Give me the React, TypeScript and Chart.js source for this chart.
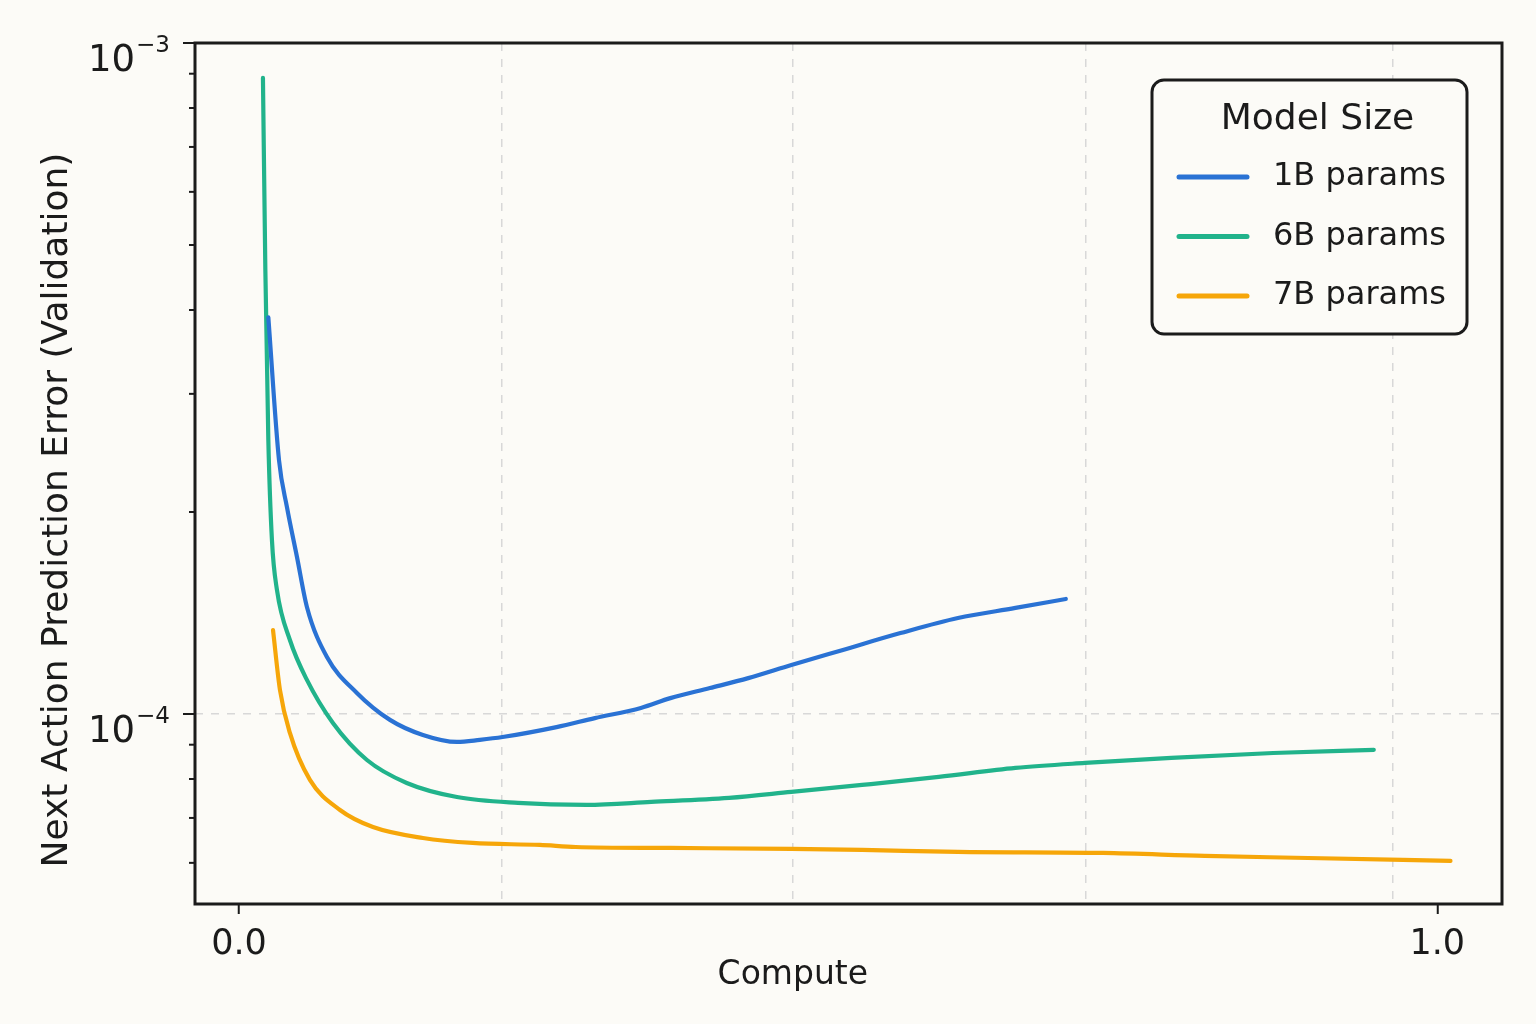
import { useEffect, useRef } from "react";
import { Chart, registerables } from "chart.js";

Chart.register(...registerables);

// Series (x = compute, y = validation error)
const seriesLabels = ["1B params", "6B params", "7B params"];
const seriesColors = ["#2a72d4", "#21b38b", "#f6a609"];

const compute1B = [0.0245, 0.0334, 0.04, 0.0484, 0.0567, 0.0734, 0.0984, 0.126, 0.1535, 0.1819, 0.201, 0.22, 0.265, 0.297, 0.3354, 0.36, 0.393, 0.425, 0.461, 0.504, 0.552, 0.6, 0.648, 0.69];
const error1B = [3.9e-4, 2.39e-4, 2.035e-4, 1.714e-4, 1.444e-4, 1.216e-4, 1.075e-4, 0.98e-4, 0.9305e-4, 0.9085e-4, 0.915e-4, 0.924e-4, 0.956e-4, 0.986e-4, 1.021e-4, 1.056e-4, 1.093e-4, 1.131e-4, 1.183e-4, 1.246e-4, 1.32e-4, 1.39e-4, 1.439e-4, 1.484e-4];

const compute6B = [0.02, 0.022, 0.0245, 0.0275, 0.0317, 0.0425, 0.0567, 0.0784, 0.1068, 0.14, 0.1819, 0.2328, 0.29, 0.344, 0.409, 0.461, 0.52, 0.584, 0.648, 0.706, 0.778, 0.863, 0.947];
const error6B = [8.87e-4, 4.6e-4, 2.56e-4, 1.817e-4, 1.53e-4, 1.289e-4, 1.124e-4, 0.9696e-4, 0.854e-4, 0.7893e-4, 0.752e-4, 0.737e-4, 0.732e-4, 0.7395e-4, 0.7497e-4, 0.7653e-4, 0.7839e-4, 0.8057e-4, 0.831e-4, 0.8454e-4, 0.86e-4, 0.8747e-4, 0.884e-4];

const compute7B = [0.0284, 0.0342, 0.0425, 0.0592, 0.0843, 0.1118, 0.1535, 0.195, 0.2511, 0.281, 0.36, 0.461, 0.52, 0.6, 0.721, 0.806, 0.892, 1.011];
const error7B = [1.334e-4, 1.086e-4, 0.937e-4, 0.7975e-4, 0.7194e-4, 0.6785e-4, 0.6535e-4, 0.6424e-4, 0.638e-4, 0.6336e-4, 0.6315e-4, 0.6293e-4, 0.6272e-4, 0.6229e-4, 0.6207e-4, 0.6144e-4, 0.6101e-4, 0.6039e-4];

// Axes
const xMin = -0.0367;
const xMax = 1.054;
const xGridValues = [0, 0.2194, 0.4622, 0.7067, 0.9628, 1.0];
const xLabelled = [0, 1];
const yMin = 5.21e-5;
const yMax = 1e-3;
const yTickValues = [6e-5, 7e-5, 8e-5, 9e-5, 1e-4, 2e-4, 3e-4, 4e-4, 5e-4, 6e-4, 7e-4, 8e-4, 9e-4, 1e-3];
const yMajor = [1e-4, 1e-3];
const yMajorExponents = ["−4", "−3"];
const xTitle = "Compute";
const yTitle = "Next Action Prediction Error (Validation)";
const legendTitle = "Model Size";

const FONT = "'DejaVu Sans', sans-serif";
const INK = "#1b1b1b";
const BG = "#fcfbf7";
const GRID = "#d8d8d8";

const isOneOf = (v: number, list: number[]) =>
  list.some((t) => Math.abs(t - v) <= Math.abs(t) * 1e-6 + 1e-12);

const framePlugin = {
  id: "frameAndLegend",
  afterDraw(chart: any) {
    const { ctx, chartArea } = chart;
    const yScale = chart.scales.y;
    const xScale = chart.scales.x;
    ctx.save();

    // y tick marks: long for decades, short for minors, plus 10^n labels
    ctx.strokeStyle = INK;
    ctx.lineWidth = 2;
    yScale.ticks.forEach((t: any) => {
      const py = yScale.getPixelForValue(t.value);
      const idx = yMajor.findIndex((m) => isOneOf(t.value, [m]));
      const len = idx >= 0 ? 12 : 6;
      ctx.beginPath();
      ctx.moveTo(chartArea.left - len, py);
      ctx.lineTo(chartArea.left, py);
      ctx.stroke();
      if (idx >= 0) {
        const right = chartArea.left - 25;
        ctx.fillStyle = INK;
        ctx.textBaseline = "alphabetic";
        ctx.textAlign = "right";
        ctx.font = `23px ${FONT}`;
        const expW = ctx.measureText(yMajorExponents[idx]).width;
        ctx.fillText(yMajorExponents[idx], right, py + 9);
        ctx.font = `37px ${FONT}`;
        ctx.fillText("10", right - expW - 1, py + 28);
      }
    });

    // axis titles
    ctx.fillStyle = INK;
    ctx.textAlign = "center";
    ctx.textBaseline = "middle";
    ctx.font = `33px ${FONT}`;
    ctx.fillText(xTitle, xScale.getPixelForValue(0.4622), 975);
    ctx.save();
    ctx.translate(58, 510);
    ctx.rotate(-Math.PI / 2);
    ctx.font = `36px ${FONT}`;
    ctx.fillText(yTitle, 0, 0);
    ctx.restore();

    // plot frame
    ctx.strokeStyle = INK;
    ctx.lineWidth = 3;
    ctx.strokeRect(chartArea.left, chartArea.top, chartArea.right - chartArea.left, chartArea.bottom - chartArea.top);

    // legend box
    const w = 315;
    const h = 254;
    const bx = chartArea.right - 35 - w;
    const by = chartArea.top + 37;
    ctx.beginPath();
    ctx.roundRect(bx, by, w, h, 12);
    ctx.fillStyle = BG;
    ctx.fill();
    ctx.lineWidth = 3;
    ctx.strokeStyle = INK;
    ctx.stroke();

    ctx.fillStyle = INK;
    ctx.textBaseline = "middle";
    ctx.textAlign = "center";
    ctx.font = `36px ${FONT}`;
    ctx.fillText(legendTitle, bx + w / 2 + 8, by + 40);

    ctx.textAlign = "left";
    ctx.font = `32px ${FONT}`;
    chart.data.datasets.forEach((ds: any, i: number) => {
      const ly = by + 97 + i * 59.5;
      ctx.beginPath();
      ctx.strokeStyle = ds.borderColor;
      ctx.lineWidth = 5;
      ctx.lineCap = "round";
      ctx.moveTo(bx + 27, ly);
      ctx.lineTo(bx + 95, ly);
      ctx.stroke();
      ctx.fillStyle = INK;
      ctx.fillText(ds.label, bx + 121, ly);
    });
    ctx.restore();
  },
};

export default function App() {
  const canvasRef = useRef<HTMLCanvasElement | null>(null);
  const chartRef = useRef<Chart | null>(null);

  useEffect(() => {
    if (!canvasRef.current) return;
    if (chartRef.current) chartRef.current.destroy();

    const xs = [compute1B, compute6B, compute7B];
    const ys = [error1B, error6B, error7B];
    const datasets = seriesLabels.map((label, i) => ({
      label,
      data: xs[i].map((x, j) => ({ x, y: ys[i][j] })),
      borderColor: seriesColors[i],
      backgroundColor: seriesColors[i],
      borderWidth: 4.2,
      pointRadius: 0,
      fill: false,
      cubicInterpolationMode: "monotone" as const,
      borderCapStyle: "round" as const,
      borderJoinStyle: "round" as const,
    }));

    chartRef.current = new Chart(canvasRef.current, {
      type: "line",
      data: { datasets },
      plugins: [framePlugin],
      options: {
        animation: false,
        responsive: false,
        maintainAspectRatio: false,
        layout: { padding: { top: 43, right: 34, left: 0, bottom: 0 } },
        plugins: {
          legend: { display: false },
          tooltip: { enabled: false },
        },
        scales: {
          x: {
            type: "linear",
            min: xMin,
            max: xMax,
            afterBuildTicks: (scale: any) => {
              scale.ticks = xGridValues.map((value) => ({ value }));
            },
            afterFit: (scale: any) => {
              scale.height = 120;
            },
            border: { display: false, dash: [8, 8] },
            grid: {
              color: (c: any) => (isOneOf(c.tick.value, xLabelled) ? "transparent" : GRID),
              lineWidth: 1.5,
              tickColor: (c: any) => (isOneOf(c.tick.value, xLabelled) ? INK : "transparent"),
              tickLength: 10,
              tickWidth: 2,
            },
            ticks: {
              autoSkip: false,
              maxRotation: 0,
              padding: 10,
              color: INK,
              font: { family: FONT, size: 35 },
              callback: (v: any) => (isOneOf(Number(v), xLabelled) ? Number(v).toFixed(1) : ""),
            },
          },
          y: {
            type: "logarithmic",
            min: yMin,
            max: yMax,
            afterBuildTicks: (scale: any) => {
              scale.ticks = yTickValues.map((value) => ({ value, major: isOneOf(value, yMajor) }));
            },
            afterFit: (scale: any) => {
              scale.width = 195;
            },
            border: { display: false, dash: [8, 8] },
            grid: {
              color: (c: any) => (isOneOf(c.tick.value, [1e-4]) ? GRID : "transparent"),
              lineWidth: 1.5,
              drawTicks: false,
            },
            ticks: { display: false, autoSkip: false },
          },
        },
      },
    });

    return () => {
      if (chartRef.current) {
        chartRef.current.destroy();
        chartRef.current = null;
      }
    };
  }, []);

  return (
    <div style={{ position: "fixed", left: 0, top: 0, width: 1536, height: 1024, background: BG }}>
      <canvas ref={canvasRef} width={1536} height={1024} style={{ display: "block" }} />
    </div>
  );
}
